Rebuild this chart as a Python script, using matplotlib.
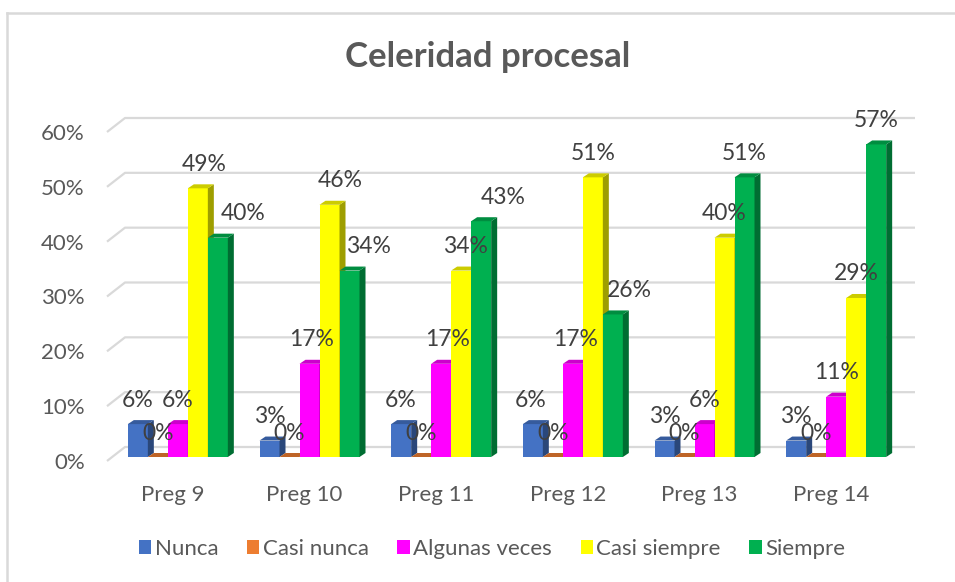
#!/usr/bin/env python3
"""
Celeridad procesal - barras con efecto 3D al estilo Excel.
"""

import numpy as np
import matplotlib
matplotlib.use("Agg")
import matplotlib.pyplot as plt
from matplotlib.patches import Polygon, Patch
from matplotlib.colors import to_rgb

# Datos
categories = ["Preg 9", "Preg 10", "Preg 11", "Preg 12", "Preg 13", "Preg 14"]
series_names = ["Nunca", "Casi nunca", "Algunas veces", "Casi siempre", "Siempre"]
nunca = [6, 3, 6, 6, 3, 3]
casi_nunca = [0, 0, 0, 0, 0, 0]
algunas_veces = [6, 17, 17, 17, 6, 11]
casi_siempre = [49, 46, 34, 51, 40, 29]
siempre = [40, 34, 43, 26, 51, 57]
y_ticks = [0, 10, 20, 30, 40, 50, 60]

COLORS = ["#4472C4", "#ED7D31", "#FF00FF", "#FFFF00", "#00B050"]
TEXT = "#595959"
LABEL = "#404040"
GRID = "#D9D9D9"

# desplazamiento horizontal de las etiquetas (px), como en el original
label_dx = [
    [0, 0, 0, 6, 25],
    [0, 0, 2, 11, 19],
    [-1, 0, 6, 4, 22],
    [-2, 0, 3, 0, 17],
    [0, 0, 0, 0, 0],
    [0, 0, 0, 0, 0],
]

W, H = 955, 582
fig = plt.figure(figsize=(W / 100, H / 100), dpi=100)
plt.rcParams["font.family"] = ["Lato", "DejaVu Sans"]

# plano frontal del piso: x 107..897 px, y 0% en 461 px, 60% en 132 px
ax = fig.add_axes([107 / W, (H - 461) / H, 790 / W, 329 / H])
ax.set_xlim(-0.5, 5.5)
ax.set_ylim(0, 60)
ax.patch.set_alpha(0)
for s in ax.spines.values():
    s.set_visible(False)

px_x = 6 / 790      # unidades x por pixel
px_y = 60 / 329     # unidades y por pixel


def shade(c, f):
    r, g, b = to_rgb(c)
    return (r * f, g * f, b * f)


# rejilla: tramo inclinado + pared del fondo
gdx, gdy = 18 * px_x, 14 * px_y
for v in y_ticks:
    ax.plot([-0.5, -0.5 + gdx, 5.5 + gdx], [v, v + gdy, v + gdy],
            color=GRID, lw=1.6, clip_on=False, zorder=1, solid_capstyle="butt")

# barras
values = np.array([nunca, casi_nunca, algunas_veces, casi_siempre, siempre])
bw = 20 * px_x
bx, by = 5 * px_x, 4 * px_y     # barras a media profundidad
dx, dy = 6 * px_x, 4 * px_y     # profundidad de cada barra
z = 2
for i in range(len(categories)):
    for j in range(len(series_names)):
        h = values[j, i]
        x0 = i - 2.5 * bw + j * bw + bx
        y0 = by
        c = COLORS[j]
        ax.bar(x0, h, width=bw, bottom=y0, align="edge", color=c,
               linewidth=0, zorder=z, clip_on=False)
        side = [(x0 + bw, y0), (x0 + bw, y0 + h), (x0 + bw + dx, y0 + h + dy), (x0 + bw + dx, y0 + dy)]
        top = [(x0, y0 + h), (x0 + bw, y0 + h), (x0 + bw + dx, y0 + h + dy), (x0 + dx, y0 + h + dy)]
        ax.add_patch(Polygon(side, closed=True, facecolor=shade(c, 0.62), lw=0, zorder=z, clip_on=False))
        ax.add_patch(Polygon(top, closed=True, facecolor=shade(c, 0.8), lw=0, zorder=z, clip_on=False))
        z += 1

# etiquetas de datos
for i in range(len(categories)):
    for j in range(len(series_names)):
        h = values[j, i]
        xc = i - 2.5 * bw + (j + 0.5) * bw + bx + label_dx[i][j] * px_x
        ax.annotate(f"{h}%", (xc, h + by), xytext=(0, 24 * 0.72), textcoords="offset points",
                    ha="center", va="center", fontsize=16.5, color=LABEL, zorder=100,
                    annotation_clip=False)

# ejes
ax.set_yticks(y_ticks)
ax.set_yticklabels([f"{v}%" for v in y_ticks])
ax.set_xticks(range(len(categories)))
ax.set_xticklabels(categories)
ax.tick_params(axis="y", length=0, pad=16, labelsize=16, labelcolor=TEXT)
ax.tick_params(axis="x", length=0, pad=17, labelsize=16, labelcolor=TEXT)

# titulo
fig.text(488 / W, 1 - 57 / H, "Celeridad procesal", ha="center", va="center",
         fontsize=25, fontweight="bold", color=TEXT)

# leyenda
handles = [Patch(facecolor=c, edgecolor="none") for c in COLORS]
fig.legend(handles, series_names, loc="center", bbox_to_anchor=(492 / W, 1 - 549 / H),
           ncol=5, frameon=False, fontsize=16, labelcolor=TEXT,
           handlelength=0.55, handleheight=0.55, handletextpad=0.15, columnspacing=1.3)

# borde del grafico
fig.add_artist(plt.Line2D([7 / W, 1], [1 - 13 / H, 1 - 13 / H], transform=fig.transFigure,
                          color=GRID, lw=1.8))
fig.add_artist(plt.Line2D([7 / W, 7 / W], [0, 1 - 13 / H], transform=fig.transFigure,
                          color=GRID, lw=1.8))

fig.savefig("out.png", dpi=100, facecolor="white")
